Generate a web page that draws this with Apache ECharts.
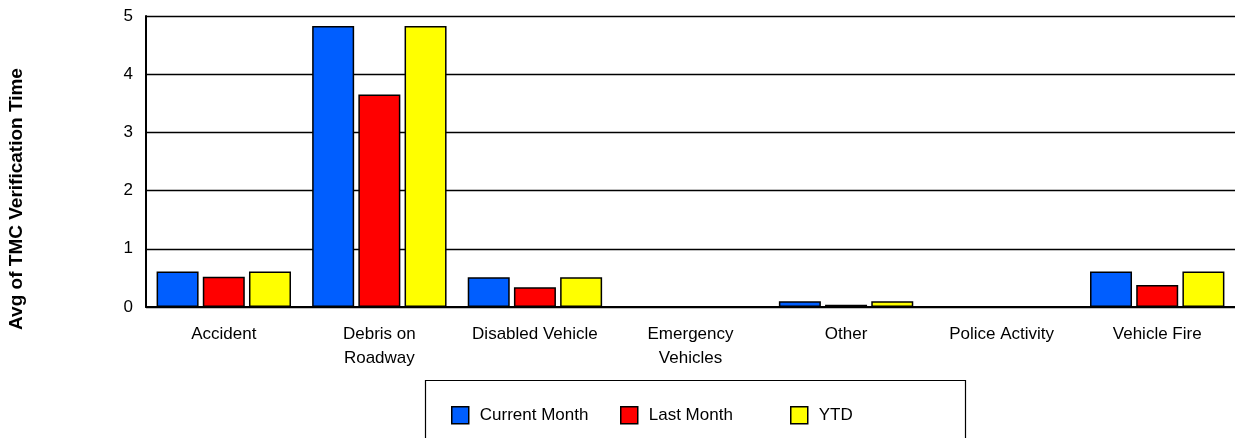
<!DOCTYPE html>
<html><head><meta charset="utf-8">
<script src="https://cdn.jsdelivr.net/npm/echarts@6/dist/echarts.min.js"></script>
<style>html,body{margin:0;padding:0;background:#fff}#c{width:1235px;height:438px}</style>
</head><body><div id="c"></div>
<script>
const categories = ['Accident', 'Debris on\nRoadway', 'Disabled Vehicle', 'Emergency\nVehicles', 'Other', 'Police Activity', 'Vehicle Fire'];
const currentMonth = [0.61, 4.83, 0.51, 0, 0.10, 0, 0.61];
const lastMonth = [0.52, 3.65, 0.34, 0, 0.04, 0, 0.38];
const ytd = [0.61, 4.83, 0.51, 0, 0.10, 0, 0.61];
const seriesNames = ['Current Month', 'Last Month', 'YTD'];
const yTicks = [0, 1, 2, 3, 4, 5];

const colors = ['#005EFF', '#FF0000', '#FFFF00'];
const font = 'Liberation Sans, Arial, sans-serif';
const chart = echarts.init(document.getElementById('c'));
const mk = (name, data, i) => ({
  name, type: 'bar', data,
  barWidth: 42, barGap: '10%',
  itemStyle: { color: colors[i], borderColor: '#000', borderWidth: 1.5 },
  animation: false
});
const legendItem = (name, left) => ({
  data: [name], left, top: 401, itemWidth: 17, itemHeight: 17, itemGap: 0,
  icon: 'rect', selectedMode: false,
  itemStyle: { borderColor: '#000', borderWidth: 1.5 },
  textStyle: { fontFamily: font, fontSize: 17, color: '#000', padding: [0, 0, 0, 6] }
});
chart.setOption({
  animation: false,
  textStyle: { fontFamily: font },
  grid: { left: 146, right: 0, top: 16, bottom: 131, containLabel: false },
  xAxis: {
    type: 'category', data: categories,
    axisLine: { lineStyle: { color: '#000', width: 2 } },
    axisTick: { show: false },
    axisLabel: { color: '#000', fontSize: 17, fontFamily: font, margin: 15, lineHeight: 24, interval: 0 }
  },
  yAxis: {
    type: 'value', min: yTicks[0], max: yTicks[yTicks.length - 1], interval: 1,
    axisLine: { show: true, lineStyle: { color: '#000', width: 2 } },
    axisTick: { show: false },
    splitLine: { lineStyle: { color: '#000', width: 1.3 } },
    axisLabel: { color: '#000', fontSize: 17, fontFamily: font, margin: 13 }
  },
  legend: [legendItem(seriesNames[0], 446), legendItem(seriesNames[1], 615), legendItem(seriesNames[2], 785)],
  graphic: [
    { type: 'rect', shape: { x: 425.5, y: 380.5, width: 540, height: 80 }, style: { fill: 'none', stroke: '#000', lineWidth: 1.2 }, z: -1 },
    { type: 'text', x: 17, y: 199, rotation: Math.PI / 2, style: { text: 'Avg of TMC Verification Time', font: 'bold 19px ' + font, fill: '#000', align: 'center', verticalAlign: 'middle' } }
  ],
  series: [mk(seriesNames[0], currentMonth, 0), mk(seriesNames[1], lastMonth, 1), mk(seriesNames[2], ytd, 2)]
});
</script></body></html>
